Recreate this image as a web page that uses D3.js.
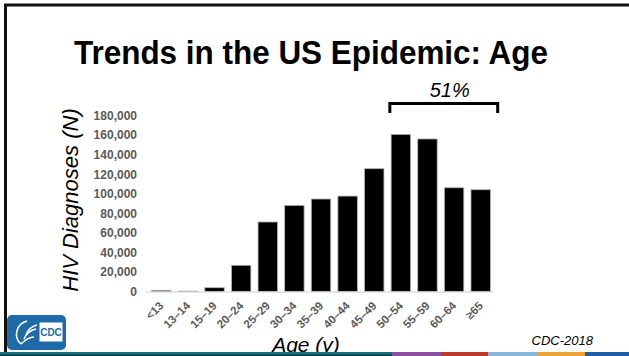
<!DOCTYPE html>
<html>
<head>
<meta charset="utf-8">
<script src="https://cdn.jsdelivr.net/npm/d3@7"></script>
<style>
  html, body { margin: 0; padding: 0; background: #fff; }
  svg { display: block; font-family: "Liberation Sans", Arial, sans-serif; }
</style>
</head>
<body>
<svg id="chart" width="629" height="356"></svg>
<script>
// HIV diagnoses by age group
const ageGroups = ["<13", "13–14", "15–19", "20–24", "25–29", "30–34", "35–39",
                   "40–44", "45–49", "50–54", "55–59", "60–64", "≥65"];
const diagnoses = [1200, 400, 3900, 26800, 71100, 88100, 94600,
                   97600, 125600, 160700, 156000, 106100, 104100];
const yTicks = [0, 20000, 40000, 60000, 80000, 100000, 120000, 140000, 160000, 180000];
const bracketGroups = ["50–54", "≥65"];
const bracketLabel = "51%";
const stripeColors = ["#17707e", "#8e4f9f", "#bf3a2b", "#8db6db", "#eea232", "#1d5ea8"];
const stripeStops = [0, 392, 441, 488, 537, 585, 629];

const svg = d3.select("#chart");
const W = 629, H = 356;

// slide frame: top and left rules
svg.append("line").attr("x1", 4).attr("x2", W).attr("y1", 5).attr("y2", 5)
  .attr("stroke", "#111").attr("stroke-width", 3);
svg.append("line").attr("x1", 5.5).attr("x2", 5.5).attr("y1", 4).attr("y2", H)
  .attr("stroke", "#111").attr("stroke-width", 3);

// title
svg.append("text").attr("x", 311).attr("y", 64).attr("text-anchor", "middle")
  .attr("font-size", 34).attr("font-weight", "bold").attr("fill", "#000")
  .attr("textLength", 474).attr("lengthAdjust", "spacingAndGlyphs")
  .text("Trends in the US Epidemic: Age");

const x = d3.scaleBand().domain(ageGroups).range([148, 494])
  .paddingInner(0.27).paddingOuter(0.135);
const y = d3.scaleLinear().domain([0, 180000]).range([291.5, 115.5]);

// value axis labels
const yAxis = d3.axisLeft(y).tickValues(yTicks).tickSize(0).tickPadding(0)
  .tickFormat(d3.format(","));
const gy = svg.append("g").attr("transform", "translate(137,0)").call(yAxis);
gy.select(".domain").remove();
gy.selectAll("text").attr("font-size", 12).attr("font-weight", "bold")
  .attr("fill", "#595959").attr("font-family", "Liberation Sans, Arial, sans-serif");

// bars
svg.append("g").selectAll("rect").data(ageGroups).join("rect")
  .attr("x", d => x(d))
  .attr("width", x.bandwidth())
  .attr("y", (d, i) => y(diagnoses[i]))
  .attr("height", (d, i) => y(0) - y(diagnoses[i]))
  .attr("fill", "#000")
  .attr("stroke", "#b3b3b3").attr("stroke-width", 0.8);

// category axis
const xAxis = d3.axisBottom(x).tickSize(0).tickPadding(0);
const gx = svg.append("g").attr("transform", `translate(0,${y(0)})`).call(xAxis);
gx.select(".domain").attr("d", "M145,0.5H494").attr("stroke", "#d0d0d0").attr("stroke-width", 1.2);
gx.selectAll(".tick text")
  .attr("font-size", 11.5).attr("font-weight", "bold").attr("fill", "#595959")
  .attr("font-family", "Liberation Sans, Arial, sans-serif")
  .attr("text-anchor", "end")
  .attr("dy", null).attr("y", 0)
  .attr("transform", "translate(3,15) rotate(-45)");

// axis titles
svg.append("text").attr("transform", "translate(78,200) rotate(-90)")
  .attr("text-anchor", "middle").attr("font-size", 22).attr("font-style", "italic")
  .attr("fill", "#000").text("HIV Diagnoses (N)");
svg.append("text").attr("x", 306).attr("y", 352).attr("text-anchor", "middle")
  .attr("font-size", 21).attr("font-style", "italic").attr("fill", "#000").text("Age (y)");

// bracket spanning the older age groups
const bx0 = x(bracketGroups[0]) + x.bandwidth() / 2 - 11;
const bx1 = x(bracketGroups[1]) + x.bandwidth() / 2 + 17;
svg.append("path")
  .attr("d", `M${bx0},113V103.5H${bx1}V113`)
  .attr("fill", "none").attr("stroke", "#000").attr("stroke-width", 3);
svg.append("text").attr("x", (bx0 + bx1) / 2 + 6).attr("y", 97).attr("text-anchor", "middle")
  .attr("font-size", 20).attr("font-style", "italic").attr("fill", "#000").text(bracketLabel);

// source note
svg.append("text").attr("x", 593).attr("y", 345).attr("text-anchor", "end")
  .attr("font-size", 13).attr("font-style", "italic").attr("fill", "#000").text("CDC-2018");

// CDC badge
const logo = svg.append("g").attr("transform", "translate(7,315)");
logo.append("rect").attr("width", 59).attr("height", 35).attr("rx", 5)
  .attr("fill", "#1f6aa8");
logo.append("path")
  .attr("d", "M20,6 C9,9 6,22 14,29 M14,29 C19,24 22,22 27,22 M17,24 C20,17 24,15 29,14 M19,20 C21,14 26,11 30,10")
  .attr("fill", "none").attr("stroke", "#fff").attr("stroke-width", 1.6);
logo.append("rect").attr("x", 33).attr("y", 8).attr("width", 22).attr("height", 18)
  .attr("fill", "#fff").attr("stroke", "#fff");
logo.append("text").attr("x", 44).attr("y", 21).attr("text-anchor", "middle")
  .attr("font-size", 10).attr("font-weight", "bold").attr("fill", "#1f6aa8").text("CDC");

// bottom colour stripe
svg.append("g").selectAll("rect").data(stripeColors).join("rect")
  .attr("x", (d, i) => stripeStops[i])
  .attr("width", (d, i) => stripeStops[i + 1] - stripeStops[i])
  .attr("y", 352).attr("height", 4)
  .attr("fill", d => d);
svg.append("rect").attr("x", 0).attr("width", stripeStops[1]).attr("y", 354.5).attr("height", 1.5)
  .attr("fill", "#0b3f4c");
</script>
</body>
</html>
